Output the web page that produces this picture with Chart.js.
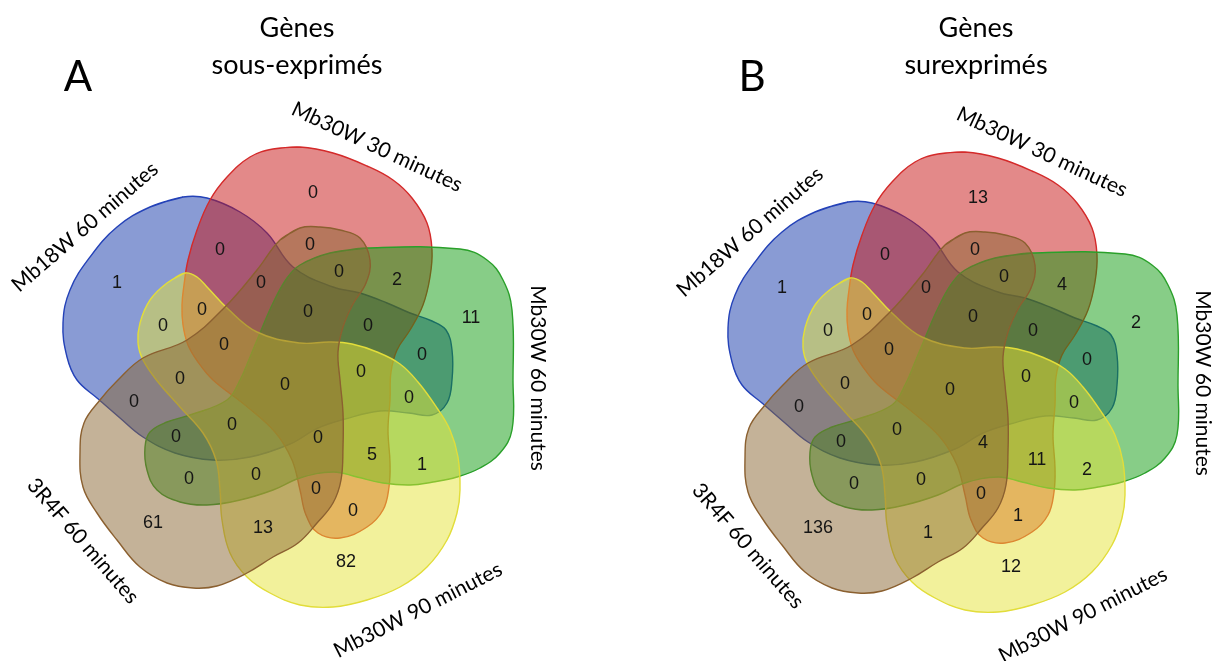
<!DOCTYPE html>
<html lang="fr">
<head>
  <meta charset="UTF-8">
  <title>Diagrammes de Venn</title>
  <script src="https://cdn.jsdelivr.net/npm/chart.js"></script>
  <style>
    body { margin: 0; background: #fff; }
    #venn { display: block; }
  </style>
</head>
<body>
  <canvas id="venn" width="1216" height="661"></canvas>

  <script>
    // données
    const setNames = ['Mb18W 60 minutes', 'Mb30W 30 minutes', 'Mb30W 60 minutes', 'Mb30W 90 minutes', '3R4F 60 minutes'];
    const panelLetters = ['A', 'B'];
    const panelTitles = [['Gènes', 'sous-exprimés'], ['Gènes', 'surexprimés']];
    // a = Mb18W 60, b = Mb30W 30, c = Mb30W 60, d = Mb30W 90, e = 3R4F 60
    const regionKeys = ['a', 'b', 'c', 'd', 'e',
      'ab', 'bc', 'cd', 'de', 'ae',
      'ac', 'bd', 'ce', 'ad', 'be',
      'abc', 'bcd', 'cde', 'ade', 'abe',
      'bce', 'abd', 'ace', 'bde', 'acd',
      'abcd', 'bcde', 'acde', 'abde', 'abce',
      'abcde'];
    const countsDown = [1, 0, 11, 82, 61,
      0, 2, 1, 13, 0,
      0, 0, 0, 0, 0,
      0, 5, 0, 0, 0,
      0, 0, 0, 0, 0,
      0, 0, 0, 0, 0,
      0];
    const countsUp = [1, 13, 2, 12, 136,
      0, 4, 2, 1, 0,
      0, 1, 0, 0, 0,
      0, 11, 0, 0, 0,
      0, 0, 0, 0, 0,
      0, 4, 0, 0, 0,
      0];

    // mise en page (coordonnées du panneau A, en pixels)
    const panelOffsets = [[0, 0], [665, 5]];
    const letterPos = [[78, 77], [752, 77]];
    const titlePos = [[297, 28], [976, 28]];
    const regionAnchor = {
      a: [117, 283], b: [313, 193], c: [471, 318], d: [346, 562], e: [153, 523],
      ab: [220, 250], bc: [397, 280], cd: [422, 465], de: [263, 528], ae: [134, 402],
      ac: [422, 355], bd: [353, 511], ce: [189, 479], ad: [163, 326], be: [310, 245],
      abc: [368, 326], bcd: [372, 455], cde: [256, 475], ade: [180, 379], abe: [261, 283],
      bce: [339, 272], abd: [202, 310], ace: [176, 437], bde: [316, 489], acd: [409, 398],
      abcd: [361, 372], bcde: [318, 438], acde: [232, 425], abde: [224, 345], abce: [308, 312],
      abcde: [285, 385]
    };
    const setLabelPos = [[85, 227, -41], [377, 147, 25], [538, 378, 90], [418, 610, -27], [83, 541, 49]];

    const outlines = [
      [[183,197],[207,198],[240,212],[267,233],[293,267],[333,287],[360,293],[387,303],[410,313],[432,321],[446,330],[452,350],[452,380],[447,403],[432,415],[409,413],[380,411],[345,419],[318,428],[290,444],[250,457],[213,460],[175,453],[143,437],[120,418],[97,398],[77,380],[67,357],[63,323],[70,290],[90,257],[117,227],[150,207]],
      [[300,147],[333,153],[367,166],[393,180],[412,198],[427,223],[432,250],[430,277],[423,305],[410,330],[397,350],[391,372],[390,400],[388,430],[390,463],[389,487],[383,510],[367,527],[340,538],[318,533],[306,515],[300,490],[292,460],[275,432],[245,405],[213,380],[198,362],[188,345],[183,325],[182,305],[184,285],[188,260],[197,230],[210,200],[227,177],[250,157],[273,149]],
      [[367,248],[460,249],[487,260],[503,280],[512,310],[513,380],[512,430],[500,453],[480,468],[457,477],[433,482],[410,485],[383,483],[357,477],[333,472],[300,478],[273,490],[240,500],[207,505],[180,502],[157,490],[147,470],[145,447],[150,432],[167,422],[190,415],[227,400],[240,380],[250,357],[260,333],[273,303],[287,278],[300,265],[330,253]],
      [[185,273],[197,277],[208,288],[227,308],[257,332],[300,343],[330,342],[352,344],[377,352],[400,364],[418,382],[437,408],[450,430],[458,457],[460,490],[457,513],[447,540],[427,567],[400,587],[367,600],[333,607],[300,605],[270,593],[247,577],[230,553],[222,520],[220,490],[216,460],[203,433],[180,407],[158,382],[143,360],[138,343],[140,323],[150,300],[167,283]],
      [[300,228],[320,227],[340,230],[360,238],[370,260],[366,283],[353,304],[343,327],[338,352],[340,380],[343,413],[343,447],[341,480],[333,503],[317,523],[298,543],[273,557],[247,573],[217,586],[193,588],[167,583],[140,567],[117,540],[97,513],[83,487],[80,453],[84,423],[100,400],[117,381],[143,358],[187,340],[225,307],[257,270],[280,240]]
    ];
    const fills = ['rgba(20,55,170,0.5)', 'rgba(200,20,20,0.5)', 'rgba(15,155,15,0.5)', 'rgba(230,228,55,0.5)', 'rgba(137,101,49,0.5)'];
    const strokes = ['#2442b8', '#d42a2a', '#2aa02a', '#e2dd3a', '#8b6030'];

    // contour fermé : on répète le dernier point au début et le premier à la fin
    function closedPath(pts, dx, dy) {
      const all = [pts[pts.length - 1], ...pts, pts[0]];
      return all.map(([x, y]) => ({ x: x + dx, y: y + dy }));
    }

    const datasets = [];
    panelOffsets.forEach(([dx, dy]) => {
      outlines.forEach((pts, i) => {
        datasets.push({
          label: setNames[i],
          data: closedPath(pts, dx, dy),
          showLine: true,
          fill: 'shape',
          tension: 0.4,
          backgroundColor: fills[i],
          borderColor: strokes[i],
          borderWidth: 1.4,
          pointRadius: 0,
          order: 5 - i
        });
      });
    });

    const textPlugin = {
      id: 'vennText',
      afterDatasetsDraw(chart) {
        const { ctx } = chart;
        const xs = chart.scales.x, ys = chart.scales.y;
        const X = v => xs.getPixelForValue(v), Y = v => ys.getPixelForValue(v);
        ctx.save();
        ctx.textAlign = 'center';
        ctx.textBaseline = 'middle';
        panelOffsets.forEach(([dx, dy], p) => {
          const counts = p === 0 ? countsDown : countsUp;
          ctx.fillStyle = '#151515';
          ctx.font = '18px "Liberation Sans", Arial, sans-serif';
          regionKeys.forEach((k, j) => {
            const [ax, ay] = regionAnchor[k];
            ctx.fillText(String(counts[j]), X(ax + dx), Y(ay + dy));
          });

          ctx.fillStyle = '#000';
          ctx.font = '21px Lato, "Open Sans", sans-serif';
          setNames.forEach((name, j) => {
            const [lx, ly, rot] = setLabelPos[j];
            ctx.save();
            ctx.translate(X(lx + dx), Y(ly + dy));
            ctx.rotate(rot * Math.PI / 180);
            ctx.fillText(name, 0, 0);
            ctx.restore();
          });

          ctx.font = '27px Lato, "Open Sans", sans-serif';
          const [tx, ty] = titlePos[p];
          ctx.fillText(panelTitles[p][0], X(tx), Y(ty));
          ctx.fillText(panelTitles[p][1], X(tx), Y(ty + 37));
          ctx.font = '42px Lato, "Open Sans", sans-serif';
          ctx.fillText(panelLetters[p], X(letterPos[p][0]), Y(letterPos[p][1]));
        });
        ctx.restore();
      }
    };

    new Chart(document.getElementById('venn'), {
      type: 'scatter',
      data: { datasets },
      options: {
        responsive: false,
        animation: false,
        devicePixelRatio: 1,
        layout: { padding: 0 },
        scales: {
          x: { type: 'linear', min: 0, max: 1216, display: false },
          y: { type: 'linear', min: 0, max: 661, reverse: true, display: false }
        },
        plugins: { legend: { display: false }, tooltip: { enabled: false } }
      },
      plugins: [textPlugin]
    });
  </script>
</body>
</html>
